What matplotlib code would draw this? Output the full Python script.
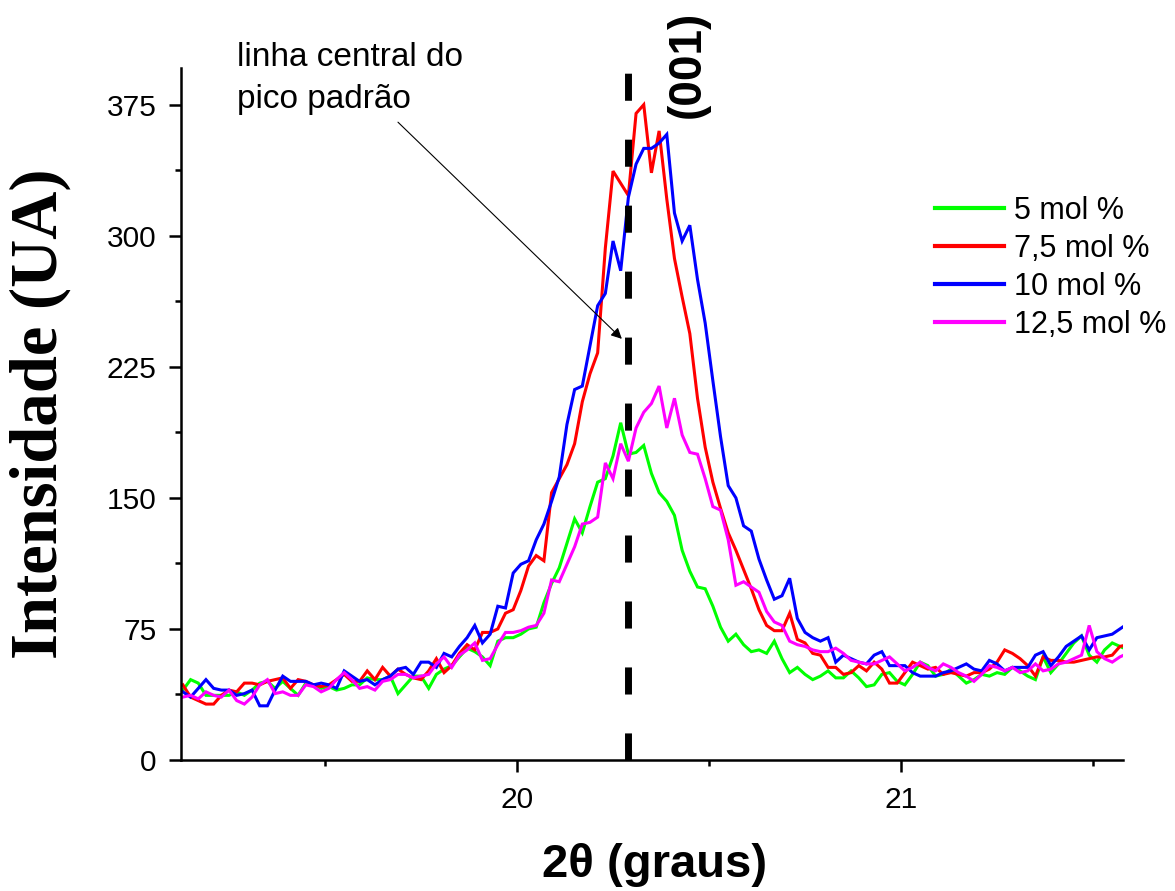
import numpy as np
import matplotlib
matplotlib.use("Agg")
import matplotlib.pyplot as plt
from matplotlib.ticker import MultipleLocator

# 2-theta sampling (0.02 deg step)
two_theta = np.round(19.13 + 0.02 * np.arange(124), 2)

labels = ["5 mol %", "7,5 mol %", "10 mol %", "12,5 mol %"]
colors = ["#00FF00", "#FF0000", "#0000FF", "#FF00FF"]

int_5 = [40, 46, 44, 37, 37, 37, 37, 39, 37, 40, 44, 45, 41, 45, 41, 37, 44, 43, 41, 42,
         40, 41, 43, 43, 47, 46, 46, 48, 38, 43, 48, 48, 41, 49, 52, 54, 59, 64, 62, 59,
         54, 68, 70, 70, 72, 75, 76, 90, 101, 110, 124, 138, 130, 145, 159, 161, 174, 193, 175, 176,
         180, 164, 153, 148, 140, 120, 108, 99, 98, 88, 76, 68, 72, 66, 62, 63, 61, 68, 58, 50,
         53, 49, 46, 48, 51, 47, 47, 51, 47, 42, 43, 49, 50, 45, 43, 49, 56, 54, 48, 49,
         52, 48, 44, 46, 49, 48, 50, 49, 53, 51, 48, 46, 59, 50, 55, 61, 67, 71, 60, 56,
         63, 67, 65, 63]

int_7_5 = [43, 36, 34, 32, 32, 37, 40, 39, 44, 44, 43, 45, 46, 47, 41, 46, 45, 43, 42, 43,
           46, 49, 45, 45, 51, 46, 53, 48, 52, 49, 47, 46, 51, 58, 50, 54, 61, 66, 63, 73,
           73, 75, 84, 86, 97, 111, 117, 114, 153, 161, 169, 181, 205, 221, 233, 293, 337, 330, 323, 370,
           375, 336, 360, 321, 287, 265, 244, 207, 179, 159, 144, 130, 120, 109, 98, 86, 77, 74, 74, 84,
           69, 67, 61, 60, 53, 53, 49, 50, 54, 51, 56, 52, 44, 44, 50, 56, 54, 52, 53, 49,
           50, 49, 48, 50, 50, 52, 56, 63, 61, 58, 54, 48, 59, 57, 57, 56, 56, 57, 58, 59,
           59, 60, 65, 66]

int_10 = [39, 36, 41, 46, 41, 40, 40, 37, 38, 40, 31, 31, 40, 48, 45, 45, 45, 43, 44, 43,
          41, 51, 48, 45, 46, 43, 46, 48, 52, 53, 49, 56, 56, 53, 61, 59, 65, 70, 77, 67,
          72, 88, 87, 107, 112, 114, 126, 135, 148, 162, 192, 212, 214, 237, 260, 267, 297, 280, 322, 341,
          350, 350, 353, 358, 313, 297, 306, 275, 250, 217, 185, 157, 150, 134, 131, 115, 103, 92, 94, 104,
          81, 73, 70, 68, 70, 56, 60, 58, 56, 55, 60, 62, 54, 54, 54, 50, 48, 48, 48, 50,
          51, 53, 55, 52, 51, 57, 55, 51, 53, 53, 53, 60, 62, 54, 59, 65, 68, 71, 63, 70,
          71, 72, 75, 78]

int_12_5 = [36, 37, 35, 39, 37, 36, 40, 34, 32, 36, 43, 46, 38, 39, 37, 37, 43, 42, 39, 41,
            46, 50, 46, 41, 42, 40, 45, 46, 49, 49, 47, 48, 49, 55, 59, 53, 60, 63, 67, 57,
            58, 66, 73, 73, 74, 76, 77, 84, 103, 102, 112, 122, 135, 136, 139, 170, 161, 181, 171, 190,
            199, 204, 214, 190, 207, 186, 176, 175, 161, 145, 143, 126, 100, 102, 99, 96, 85, 79, 77, 68,
            66, 65, 63, 62, 62, 64, 61, 57, 56, 55, 55, 57, 59, 55, 51, 53, 56, 53, 51, 55,
            53, 50, 48, 45, 49, 54, 53, 51, 53, 50, 51, 55, 51, 52, 55, 56, 58, 60, 77, 62,
            58, 56, 59, 61]

series = [int_5, int_7_5, int_10, int_12_5]

# position of the reference (001) peak centre
peak_center = 20.29

W, H = 1175, 891
fig = plt.figure(figsize=(W / 100, H / 100), dpi=100)
ax = fig.add_axes([181 / W, 1 - 760 / H, (1123 - 181) / W, (760 - 68) / H])

for y, c, lab in zip(series, colors, labels):
    ax.plot(two_theta, y, color=c, lw=2.2, label=lab, solid_joinstyle="miter")

ax.plot([peak_center, peak_center], [0, 396], color="black", lw=5,
        dashes=(3.9, 5.6), solid_capstyle="butt", dash_capstyle="butt")

ax.set_xlim(19.125, 21.578)
ax.set_ylim(0, 396)

for s in ["top", "right"]:
    ax.spines[s].set_visible(False)
for s in ["left", "bottom"]:
    ax.spines[s].set_linewidth(1.8)

ax.xaxis.set_major_locator(MultipleLocator(1))
ax.xaxis.set_minor_locator(MultipleLocator(0.5))
ax.yaxis.set_major_locator(MultipleLocator(75))
ax.yaxis.set_minor_locator(MultipleLocator(37.5))
ax.tick_params(axis="both", which="major", direction="out", width=1.8, length=8.6,
               labelsize=21.5)
ax.tick_params(axis="both", which="minor", direction="out", width=1.8, length=4.3)
ax.tick_params(axis="x", which="major", pad=10)
ax.tick_params(axis="y", which="major", pad=9)
for lbl in ax.get_xticklabels() + ax.get_yticklabels():
    lbl.set_fontfamily("Liberation Sans")

leg = ax.legend(loc="upper left", bbox_to_anchor=(935 / W, 1 - 196 / H),
                bbox_transform=fig.transFigure, frameon=False,
                prop={"family": "Liberation Sans", "size": 22},
                handlelength=2.25, handletextpad=0.33, labelspacing=0.26,
                borderpad=0, borderaxespad=0)
for h in leg.get_lines():
    h.set_linewidth(3)

# annotation with arrow towards the dashed centre line
fig.text(237 / W, 1 - 42 / H, "linha central do\npico padrão", ha="left", va="top",
         fontsize=24, family="Liberation Sans", linespacing=1.44)
ax.annotate("", xy=(20.273, 241), xytext=(19.69, 365),
            arrowprops=dict(arrowstyle="-|>", color="black", lw=0.8,
                            mutation_scale=16, shrinkA=0, shrinkB=0),
            annotation_clip=False)

fig.text(688 / W, 1 - 64 / H, "(001)", rotation=90, ha="center", va="center",
         fontsize=33, fontweight="bold", family="Liberation Sans")

fig.text(40 / W, 1 - 414 / H, "Intensidade (UA)", rotation=90, ha="center", va="center",
         fontsize=48, fontweight="bold", family="Liberation Serif")
fig.text(655 / W, 1 - 865 / H, "2θ (graus)", ha="center", va="center",
         fontsize=34, fontweight="bold", family="Liberation Sans")

fig.savefig("out.png", dpi=100)
